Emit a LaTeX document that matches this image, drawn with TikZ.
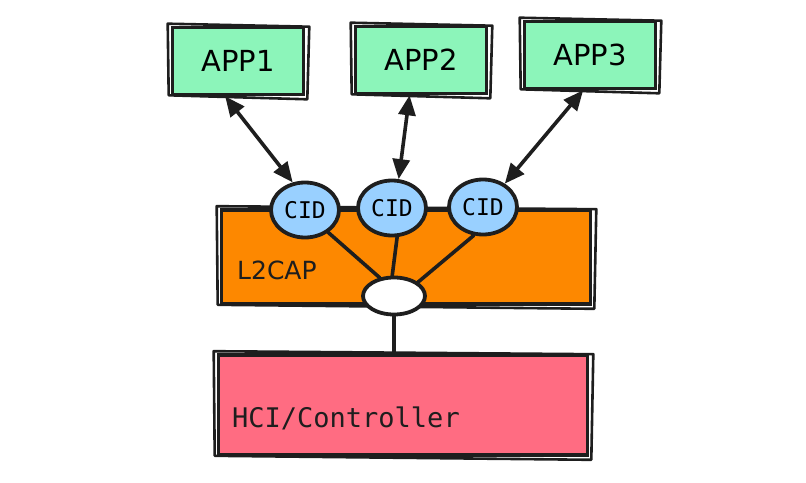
\documentclass[tikz,border=0pt]{standalone}
\usepackage{fontspec}
\setmainfont{DejaVu Sans}
\setmonofont{DejaVu Sans Mono}
\usetikzlibrary{arrows.meta,shapes.geometric}
\definecolor{ink}{HTML}{1E1E1E}
\definecolor{appgreen}{HTML}{8CF5BA}
\definecolor{cidblue}{HTML}{99D0FF}
\definecolor{l2orange}{HTML}{FD8800}
\definecolor{hcipink}{HTML}{FF6C82}
\newcommand\SketchBox[1]{% second, slightly skewed stroke round a box
  \draw[sketch line] ([shift={(-3,-2)}]#1.north west) -- ([shift={(4,1)}]#1.north east)
    -- ([shift={(2,3)}]#1.south east) -- ([shift={(-2,-1)}]#1.south west) -- cycle;
}
\tikzset{%
  >={Triangle[length=20pt,width=17pt]}, % filled heads
  sketch line/.style={draw=ink,line width=2.6pt,line cap=round,line join=round},
  box/.style={rectangle,draw=ink,line width=3.6pt,inner sep=0pt},
  app/.style={box,fill=appgreen,minimum width=131pt,minimum height=67pt,
    font=\fontsize{29}{32}\selectfont},
  layer/.style={box,minimum width=369pt},
  cid/.style={ellipse,draw=ink,fill=cidblue,line width=3.8pt,inner sep=0pt,
    minimum width=68pt,minimum height=55pt,font=\fontsize{23}{26}\ttfamily},
  hub/.style={ellipse,draw=ink,fill=white,line width=3.8pt,
    minimum width=62pt,minimum height=37pt},
  link/.style={draw=ink,line width=3.6pt,line cap=round},
  layer name/.style={inner sep=0pt,anchor=west,text=ink}
}
\begin{document}
\begin{tikzpicture}[x=1pt,y=-1pt]
\useasboundingbox (0,0) rectangle (806,482);

% the two layers
\node[layer,fill=l2orange,minimum height=94pt] (l2cap) at (406,257) {};
\SketchBox{l2cap}
\node[layer,fill=hcipink,minimum height=100pt] (hci) at (403,405) {};
\SketchBox{hci}
\node[layer name,font=\fontsize{25}{28}\selectfont] (l2name) at (237,270) {L2CAP};
\node[layer name,font=\fontsize{27}{30}\ttfamily] (hciname) at (232,418) {HCI/Controller};

% applications and channels
\foreach \n/\x/\y/\cx/\cy in {1/238/61/305/210, 2/421/60/392/208, 3/590/55/483/207} {
  \node[app] (app\n) at (\x,\y) {APP\n};
  \SketchBox{app\n}
  \node[cid] (cid\n) at (\cx,\cy) {CID};
}
\node[hub] (hub) at (394,296) {};

\foreach \n/\a/\c in {1/250/114, 2/252/77, 3/259/47}
  \draw[link,<->] (app\n.\a) -- (cid\n.\c);

\draw[link] (cid1.-44) -- (hub.128);
\draw[link] (cid2.-80) -- (hub.95);
\draw[link] (cid3.-108) -- (hub.30);
\draw[link] (hub.south) -- (hub.south |- hci.north);

\end{tikzpicture}
\end{document}
